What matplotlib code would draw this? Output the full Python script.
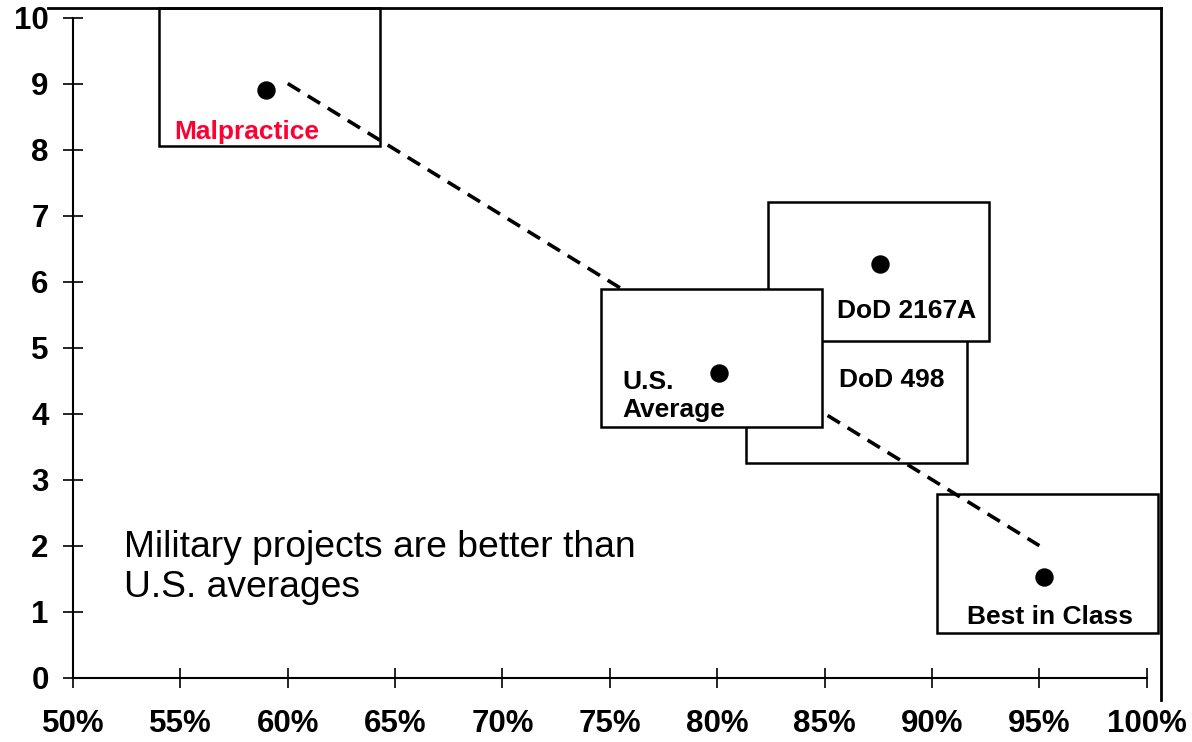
import matplotlib
matplotlib.use("Agg")
import matplotlib.pyplot as plt
from matplotlib.patches import Rectangle
from matplotlib.lines import Line2D

plt.rcParams['font.family'] = ['Liberation Sans', 'DejaVu Sans']

# Project categories: defect removal efficiency (%) vs. defects per function point
categories = ["Malpractice", "U.S.\nAverage", "DoD 2167A", "Best in Class"]
efficiency = [59.0, 80.1, 87.6, 95.2]
defects = [8.9, 4.62, 6.27, 1.53]

# Trend line end points
trend_x = [60, 95]
trend_y = [9.0, 2.0]

x_ticks = [50, 55, 60, 65, 70, 75, 80, 85, 90, 95, 100]
x_tick_labels = [f"{t}%" for t in x_ticks]
y_ticks = list(range(0, 11))

note = "Military projects are better than\nU.S. averages"

W, H = 1192, 742
fig = plt.figure(figsize=(W / 100, H / 100), dpi=100)
ax = fig.add_axes([73 / W, 1 - 677.7 / H, (1146.7 - 73) / W, (677.7 - 17.5) / H])
ax.set_xlim(50, 100)
ax.set_ylim(0, 10)
ax.patch.set_alpha(0)

for s in ("top", "right"):
    ax.spines[s].set_visible(False)
for s in ("left", "bottom"):
    ax.spines[s].set_linewidth(1.5)
    ax.spines[s].set_zorder(0.5)

ax.set_xticks(x_ticks)
ax.set_xticklabels(x_tick_labels)
ax.set_yticks(y_ticks)
ax.tick_params(axis="both", direction="inout", length=15, width=1.2,
               labelsize=22.5)
ax.tick_params(axis="x", pad=15)
ax.tick_params(axis="y", pad=10)
for lab in ax.get_xticklabels() + ax.get_yticklabels():
    lab.set_fontweight("bold")

box_w, box_h = 10.3, 2.1
box_kw = dict(edgecolor="black", linewidth=1.8, clip_on=False)

# Label boxes (lower left corners in data units)
ax.add_patch(Rectangle((54.0, 8.06), box_w, 10.14 - 8.06, facecolor="none", zorder=1, **box_kw))
ax.add_patch(Rectangle((81.33, 3.25), box_w, box_h, facecolor="white", zorder=1.1, **box_kw))
ax.add_patch(Rectangle((82.36, 5.10), box_w, box_h, facecolor="white", zorder=1.2, **box_kw))
ax.add_patch(Rectangle((90.23, 0.68), box_w, box_h, facecolor="none", zorder=1.3, **box_kw))

ax.plot(trend_x, trend_y, color="black", linewidth=2.6, dashes=(4.0, 2.5),
        zorder=2, solid_capstyle="butt", dash_capstyle="butt")

ax.add_patch(Rectangle((74.59, 3.79), box_w, box_h, facecolor="white", zorder=3, **box_kw))

ax.scatter(efficiency, defects, s=150, color="black", zorder=4, clip_on=False)

lbl = dict(fontsize=19, fontweight="bold", va="baseline", zorder=5)
ax.text(58.08, 8.16, categories[0], ha="center", color="#FF0033", **lbl)
ax.text(75.58, 4.38, "U.S.", ha="left", color="black", **lbl)
ax.text(75.58, 3.95, "Average", ha="left", color="black", **lbl)
ax.text(88.81, 5.45, categories[2], ha="center", color="black", **lbl)
ax.text(88.11, 4.41, "DoD 498", ha="center", color="black", **lbl)
ax.text(95.52, 0.82, categories[3], ha="center", color="black", **lbl)

ax.text(52.38, 1.22, note, fontsize=26.8, ha="left", va="baseline",
        color="black", linespacing=1.2, zorder=5)

# Outer frame along the top and right edges
fig.add_artist(Line2D([48 / W, 1161 / W], [1 - 8.3 / H, 1 - 8.3 / H],
                      color="black", linewidth=2.0, transform=fig.transFigure))
fig.add_artist(Line2D([1161 / W, 1161 / W], [1 - 8.3 / H, 1 - 700 / H],
                      color="black", linewidth=2.0, transform=fig.transFigure))

fig.savefig("out.png", dpi=100, facecolor="white")
